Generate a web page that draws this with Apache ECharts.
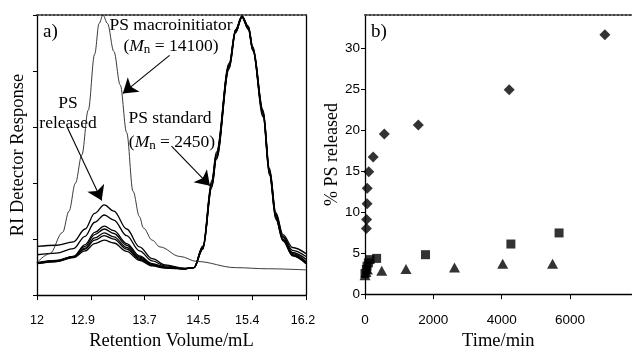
<!DOCTYPE html>
<html><head><meta charset="utf-8">
<script src="https://cdn.jsdelivr.net/npm/echarts@6/dist/echarts.min.js"></script>
<style>html,body{margin:0;padding:0;background:#fff}#c{width:632px;height:356px}</style>
</head><body><div id="c"></div>
<script>
// ---- Panel a) GPC traces ----
const retVol = [12.0,12.3,12.57,12.75,12.9,13.05,13.2,13.4,13.6,13.8,14.0,14.3,14.45,14.59,14.73,14.8,15.0,15.1,15.2,15.3,15.37,15.53,15.63,15.73,15.84,15.99,16.2];
const trace1 = [0.87,0.89,0.95,1.18,1.46,1.61,1.50,1.18,0.86,0.65,0.54,0.48,0.49,0.88,2.05,2.55,4.14,4.74,4.98,4.80,4.43,3.30,2.26,1.47,1.08,0.85,0.74];
const trace2 = [0.72,0.75,0.83,1.05,1.30,1.43,1.34,1.06,0.79,0.61,0.52,0.47,0.49,0.87,2.02,2.52,4.12,4.73,4.98,4.79,4.42,3.28,2.24,1.45,1.05,0.80,0.69];
const trace3 = [0.58,0.62,0.69,0.90,1.12,1.23,1.15,0.92,0.70,0.56,0.50,0.47,0.49,0.86,2.00,2.50,4.11,4.72,4.98,4.78,4.40,3.26,2.22,1.43,1.03,0.76,0.64];
const trace4 = [0.57,0.61,0.69,0.87,1.08,1.18,1.10,0.89,0.68,0.55,0.50,0.47,0.49,0.85,1.98,2.48,4.10,4.71,4.97,4.77,4.39,3.24,2.20,1.41,1.00,0.74,0.60];
const trace5 = [0.57,0.61,0.68,0.84,1.02,1.11,1.04,0.85,0.66,0.54,0.49,0.47,0.49,0.84,1.96,2.46,4.08,4.70,4.97,4.76,4.38,3.22,2.18,1.39,0.99,0.72,0.58];
const trace6 = [0.56,0.60,0.68,0.82,0.98,1.06,1.00,0.82,0.64,0.53,0.49,0.47,0.49,0.83,1.94,2.44,4.06,4.69,4.96,4.75,4.37,3.20,2.16,1.37,0.98,0.71,0.57];
const trace7 = [0.56,0.60,0.67,0.79,0.92,0.98,0.93,0.78,0.62,0.52,0.48,0.47,0.49,0.82,1.92,2.42,4.04,4.68,4.96,4.74,4.36,3.18,2.14,1.35,0.97,0.70,0.56];
const macroVol  = [12.0,12.2,12.4,12.5,12.6,12.7,12.8,12.9,12.97,13.03,13.1,13.2,13.3,13.4,13.5,13.6,13.66,13.8,13.92,14.23,14.5,15.1,15.6,16.2];
const macroResp = [0.58,0.74,1.12,1.50,2.00,2.50,3.30,4.30,4.85,5.00,4.85,4.35,3.75,2.90,1.85,1.40,1.20,0.98,0.86,0.69,0.60,0.49,0.47,0.45];
const xTickPos = [12,12.84,13.68,14.52,15.36,16.2];
const xTickLabels = ['12','12.9','13.7','14.5','15.4','16.2'];
// arrows (annotation) in data units: [fromVol, fromResp, toVol, toResp]
const arrowMacro = [14.07,4.28,13.34,3.60];
const arrowReleased = [12.47,3.00,13.01,1.69];
const arrowStandard = [14.10,2.66,14.70,1.95];

// ---- Panel b) release kinetics ----
const timeDiamond = [40,45,60,65,110,240,565,1560,4220,7020];
const pctDiamond  = [8.0,9.1,11.0,12.9,14.9,16.7,19.5,20.6,24.9,31.6];
const timeSquare = [0,40,60,100,150,340,1770,4270,5680];
const pctSquare  = [2.5,3.0,3.4,3.8,4.2,4.35,4.8,6.1,7.45];
const timeTriangle = [0,30,70,490,1200,2620,4030,5490];
const pctTriangle  = [2.3,2.7,3.0,2.85,3.05,3.25,3.7,3.7];
const timeTicks = [0,2000,4000,6000];
const pctTicks = [0,5,10,15,20,25,30];

const serif = 'Liberation Serif', sans = 'Liberation Sans';
const zip = (a,b) => a.map((v,i)=>[v,b[i]]);
const traces = [trace1,trace2,trace3,trace4,trace5,trace6,trace7];
const arrowLine = a => [{coord:[a[0],a[1]]},{coord:[a[2],a[3]]}];

const chart = echarts.init(document.getElementById('c'), null, {renderer:'canvas'});
const blackAxis = () => ({show:true, onZero:false, lineStyle:{color:'#000', width:1.3}});
const dottedTop = () => ({show:true, onZero:false, lineStyle:{color:'#444', width:2, type:'dotted'}});

const series = traces.map(t => ({
  type:'line', xAxisIndex:0, yAxisIndex:0, data: zip(retVol,t), showSymbol:false,
  smooth:0.35, smoothMonotone:'x', lineStyle:{color:'#000', width:1.3}, silent:true
}));
series.push({
  type:'line', xAxisIndex:0, yAxisIndex:0, data: zip(macroVol,macroResp), showSymbol:false,
  smooth:0.35, smoothMonotone:'x', lineStyle:{color:'#222', width:0.9}, silent:true,
  markLine:{silent:true, symbol:['none','arrow'], symbolSize:14, label:{show:false},
    lineStyle:{color:'#000', width:1.1, type:'solid'}, emphasis:{disabled:true},
    data:[arrowLine(arrowMacro), arrowLine(arrowReleased), arrowLine(arrowStandard)]}
});
series.push({type:'scatter', xAxisIndex:2, yAxisIndex:2, data: zip(timeDiamond,pctDiamond), symbol:'diamond', symbolSize:[11,11], itemStyle:{color:'#000'}, silent:true});
series.push({type:'scatter', xAxisIndex:2, yAxisIndex:2, data: zip(timeSquare,pctSquare), symbol:'rect', symbolSize:[9,9], itemStyle:{color:'#000'}, silent:true});
series.push({type:'scatter', xAxisIndex:2, yAxisIndex:2, data: zip(timeTriangle,pctTriangle), symbol:'triangle', symbolSize:[11,10], itemStyle:{color:'#000'}, silent:true});

const mnRich = {
  i:{fontFamily:serif, fontSize:17.5, fontStyle:'italic', fill:'#000'},
  s:{fontFamily:serif, fontSize:13, fill:'#000', padding:[7,0,0,0]},
  r:{fontFamily:serif, fontSize:17.5, fill:'#000'}
};
const txt = (text, x, y, extra) => ({type:'text', silent:true, style:Object.assign({text, x, y, fill:'#000', font:'17.5px "Liberation Serif"', align:'center', verticalAlign:'middle'}, extra||{})});
const labelShift = {l0:{padding:[0,0,0,0]}, l1:{padding:[0,16,0,0]}, l4:{padding:[0,10,0,0]}, l5:{padding:[0,6,0,0]}};
const titleStyle = {fontFamily:serif, fontSize:18.5, color:'#000'};

const option = {
  animation:false,
  grid:[{left:37, top:15, width:269, height:292},{left:365, top:15, width:266.5, height:292}],
  xAxis:[
    {gridIndex:0, type:'value', min:12, max:16.2, position:'bottom',
     axisLine:blackAxis(), axisTick:{show:true, customValues:xTickPos, length:5, lineStyle:{color:'#000'}},
     axisLabel:{customValues:xTickPos, formatter:v=>{const i=xTickPos.findIndex(t=>Math.abs(t-v)<1e-6); if(i<0) return ''; return labelShift['l'+i] ? '{l'+i+'|'+xTickLabels[i]+'}' : xTickLabels[i];},
       rich:labelShift, fontFamily:sans, fontSize:12.5, color:'#000', margin:19},
     splitLine:{show:false}, name:'Retention Volume/mL', nameLocation:'middle', nameGap:33, nameTextStyle:titleStyle},
    {gridIndex:0, type:'value', min:12, max:16.2, position:'top', axisLine:dottedTop(), axisTick:{show:false}, axisLabel:{show:false}, splitLine:{show:false}},
    {gridIndex:1, type:'value', min:0, max:7800, position:'bottom',
     axisLine:blackAxis(), axisTick:{show:true, customValues:timeTicks, length:5, lineStyle:{color:'#000'}},
     axisLabel:{customValues:timeTicks, formatter:v=>String(v), fontFamily:sans, fontSize:13.5, color:'#000', margin:19},
     splitLine:{show:false}, name:'Time/min', nameLocation:'middle', nameGap:33, nameTextStyle:titleStyle},
    {gridIndex:1, type:'value', min:0, max:7800, position:'top', axisLine:dottedTop(), axisTick:{show:false}, axisLabel:{show:false}, splitLine:{show:false}}
  ],
  yAxis:[
    {gridIndex:0, type:'value', min:0, max:5, interval:1, position:'left',
     axisLine:blackAxis(), axisTick:{show:true, length:4, lineStyle:{color:'#000'}}, axisLabel:{show:false}, splitLine:{show:false},
     name:'RI Detector Response', nameLocation:'middle', nameGap:9, nameTextStyle:titleStyle},
    {gridIndex:0, type:'value', min:0, max:5, position:'right', axisLine:blackAxis(), axisTick:{show:false}, axisLabel:{show:false}, splitLine:{show:false}},
    {gridIndex:1, type:'value', min:0, max:34, position:'left',
     axisLine:blackAxis(), axisTick:{show:true, customValues:pctTicks, length:4, lineStyle:{color:'#000'}},
     axisLabel:{customValues:pctTicks, fontFamily:sans, fontSize:13.5, color:'#000', margin:5}, splitLine:{show:false},
     name:'% PS released', nameLocation:'middle', nameGap:24, nameTextStyle:{fontFamily:serif, fontSize:18, color:'#000'}}
  ],
  graphic:[
    txt('a)', 43, 32, {align:'left', font:'19px "Liberation Serif"'}),
    txt('b)', 371, 32, {align:'left', font:'19px "Liberation Serif"'}),
    txt('PS macroinitiator', 171, 25),
    txt('({i|M}{s|n}{r| = 14100)}', 171, 46, {rich:mnRich}),
    txt('PS', 68, 103),
    txt('released', 68, 123),
    txt('PS standard', 170, 118),
    txt('({i|M}{s|n}{r| = 2450)}', 172, 142, {rich:mnRich})
  ],
  series
};
chart.setOption(option);
</script>
</body></html>
